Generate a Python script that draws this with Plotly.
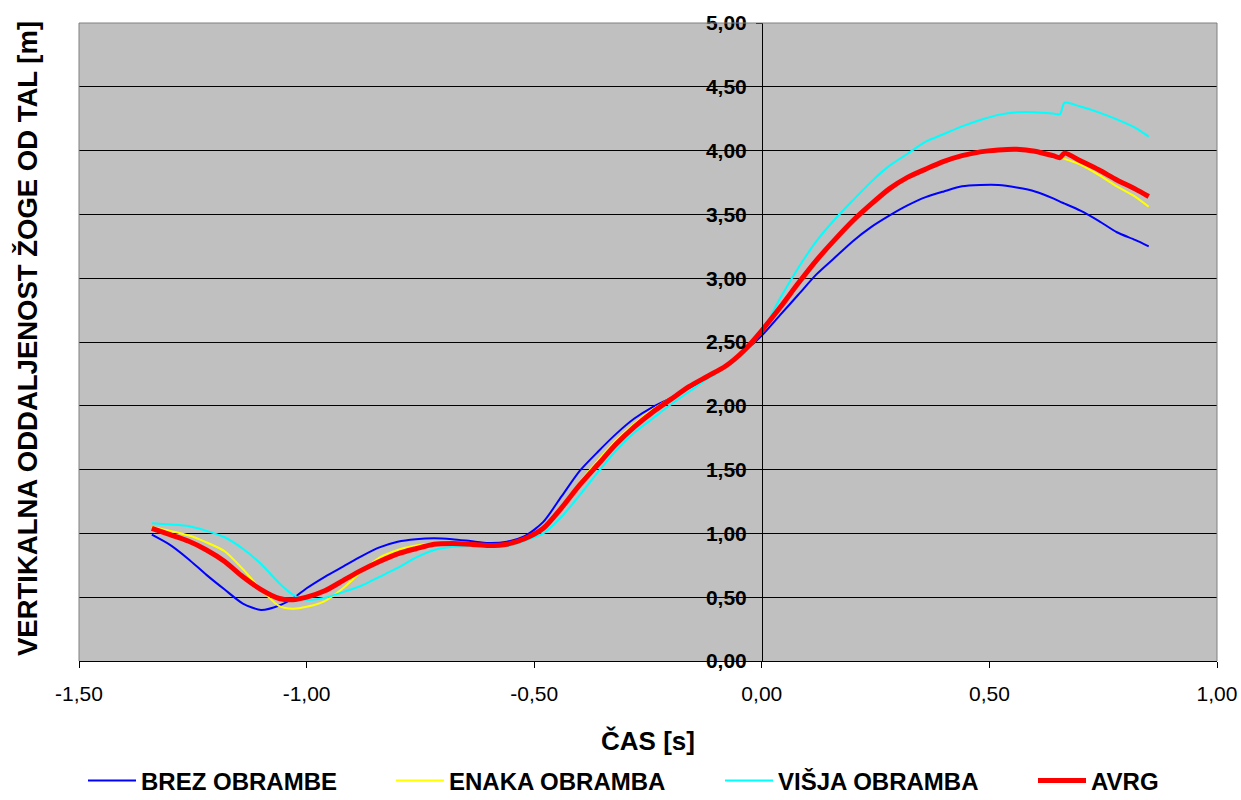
import plotly.graph_objects as go

# Time axis [s] and vertical ball height above ground [m] for each defence condition
time_s = [-1.34, -1.30, -1.26, -1.22, -1.18, -1.14, -1.10, -1.06, -1.03, -1.00,
          -0.96, -0.92, -0.88, -0.84, -0.80, -0.76, -0.72, -0.68, -0.64, -0.60,
          -0.56, -0.52, -0.48, -0.44, -0.40, -0.36, -0.32, -0.28, -0.24, -0.20,
          -0.16, -0.12, -0.08, -0.04, 0.00, 0.04, 0.08, 0.12, 0.16, 0.20,
          0.24, 0.28, 0.32, 0.36, 0.40, 0.44, 0.48, 0.52, 0.56, 0.60,
          0.64, 0.655, 0.665, 0.70, 0.74, 0.78, 0.82, 0.85]

brez_obrambe = [0.99, 0.91, 0.80, 0.675, 0.56, 0.45, 0.40, 0.435, 0.49, 0.57,
                0.66, 0.74, 0.82, 0.89, 0.935, 0.955, 0.962, 0.955, 0.94, 0.925,
                0.935, 0.98, 1.09, 1.29, 1.49, 1.64, 1.78, 1.90, 1.99, 2.06,
                2.14, 2.22, 2.31, 2.42, 2.55, 2.71, 2.87, 3.03, 3.16, 3.29,
                3.40, 3.49, 3.57, 3.635, 3.68, 3.72, 3.73, 3.73, 3.71, 3.68,
                3.625, 3.60, 3.585, 3.53, 3.45, 3.36, 3.30, 3.25]

enaka_obramba = [1.05, 1.02, 0.985, 0.93, 0.86, 0.72, 0.56, 0.43, 0.41, 0.425,
                 0.47, 0.57, 0.70, 0.81, 0.87, 0.905, 0.92, 0.92, 0.915, 0.905,
                 0.915, 0.96, 1.05, 1.21, 1.40, 1.57, 1.73, 1.86, 1.97, 2.06,
                 2.15, 2.24, 2.32, 2.44, 2.59, 2.77, 2.97, 3.15, 3.31, 3.46,
                 3.59, 3.70, 3.79, 3.855, 3.915, 3.96, 3.99, 4.005, 4.01, 3.995,
                 3.96, 3.945, 3.935, 3.89, 3.81, 3.72, 3.64, 3.56]

visja_obramba = [1.08, 1.07, 1.058, 1.02, 0.97, 0.88, 0.76, 0.61, 0.52, 0.48,
                 0.495, 0.54, 0.59, 0.66, 0.73, 0.81, 0.87, 0.895, 0.90, 0.895,
                 0.90, 0.945, 1.00, 1.13, 1.30, 1.48, 1.65, 1.79, 1.90, 2.01,
                 2.11, 2.21, 2.30, 2.41, 2.58, 2.84, 3.08, 3.29, 3.46, 3.61,
                 3.755, 3.88, 3.975, 4.07, 4.13, 4.19, 4.24, 4.28, 4.30, 4.30,
                 4.29, 4.285, 4.375, 4.345, 4.30, 4.245, 4.18, 4.11]

avrg = [1.04, 0.99, 0.94, 0.87, 0.78, 0.66, 0.56, 0.49, 0.48, 0.50,
        0.55, 0.63, 0.71, 0.78, 0.84, 0.88, 0.915, 0.92, 0.915, 0.905,
        0.915, 0.96, 1.04, 1.20, 1.38, 1.54, 1.70, 1.835, 1.95, 2.05,
        2.15, 2.23, 2.31, 2.43, 2.59, 2.77, 2.96, 3.14, 3.30, 3.45,
        3.58, 3.70, 3.79, 3.855, 3.915, 3.96, 3.99, 4.005, 4.01, 3.995,
        3.96, 3.945, 3.98, 3.92, 3.85, 3.77, 3.70, 3.64]

x_tick_vals = [-1.5, -1.0, -0.5, 0.0, 0.5, 1.0]
x_tick_text = ["-1,50", "-1,00", "-0,50", "0,00", "0,50", "1,00"]
y_tick_vals = [0.0, 0.5, 1.0, 1.5, 2.0, 2.5, 3.0, 3.5, 4.0, 4.5, 5.0]
y_tick_text = ["0,00", "0,50", "1,00", "1,50", "2,00", "2,50",
               "3,00", "3,50", "4,00", "4,50", "5,00"]

FONT = "Liberation Sans, Arial, sans-serif"

series = [
    ("BREZ OBRAMBE", brez_obrambe, "#0000FF", 2, "legend"),
    ("ENAKA OBRAMBA", enaka_obramba, "#FFFF00", 2, "legend2"),
    ("VIŠJA OBRAMBA", visja_obramba, "#00FFFF", 2, "legend3"),
    ("AVRG", avrg, "#FF0000", 5, "legend4"),
]

fig = go.Figure()
for name, vals, color, width, lg in series:
    fig.add_trace(go.Scatter(
        x=time_s, y=vals, mode="lines", name=name,
        line=dict(color=color, width=width, shape="spline", smoothing=0.7),
        legend=lg,
    ))

# plot area: 79..1217 px horizontally, 23..661 px vertically
L, R, T, B = 79, 24, 23, 139
W, H = 1241, 800
pw, ph = W - L - R, H - T - B


def px_x(px):
    return (px - L) / pw


def px_y(py):
    return (H - B - py) / ph


leg_common = dict(
    orientation="h", yanchor="middle", xanchor="left",
    font=dict(family=FONT, size=24, color="black", weight="bold"),
    bgcolor="rgba(0,0,0,0)", borderwidth=0, itemwidth=48,
)

fig.update_layout(
    width=W, height=H,
    margin=dict(l=L, r=R, t=T, b=B, pad=0, autoexpand=False),
    paper_bgcolor="white",
    plot_bgcolor="#C0C0C0",
    font=dict(family=FONT, color="black"),
    showlegend=True,
    legend=dict(x=px_x(83), y=px_y(781), **leg_common),
    legend2=dict(x=px_x(391), y=px_y(781), **leg_common),
    legend3=dict(x=px_x(720), y=px_y(781), **leg_common),
    legend4=dict(x=px_x(1033), y=px_y(781), **leg_common),
    xaxis=dict(
        range=[-1.5, 1.0],
        tickmode="array", tickvals=x_tick_vals, ticktext=x_tick_text,
        ticks="outside", ticklen=6, tickcolor="black", tickwidth=1,
        showline=True, linecolor="black", linewidth=1,
        showgrid=False, zeroline=False,
        tickfont=dict(family=FONT, size=21, color="black"),
        ticklabelstandoff=8,
        title=dict(text="ČAS [s]", standoff=27,
                   font=dict(family=FONT, size=26, color="black", weight="bold")),
    ),
    yaxis=dict(
        range=[0, 5],
        anchor="free", position=px_x(762), side="left",
        tickmode="array", tickvals=y_tick_vals, ticktext=y_tick_text,
        ticks="outside", ticklen=6, tickcolor="black", tickwidth=1,
        showline=True, linecolor="black", linewidth=1,
        showgrid=True, gridcolor="black", gridwidth=1,
        zeroline=False,
        tickfont=dict(family=FONT, size=21, color="black", weight="bold"),
        ticklabelstandoff=5,
    ),
    annotations=[dict(
        text="VERTIKALNA ODDALJENOST ŽOGE OD TAL [m]",
        xref="paper", yref="paper", x=px_x(27), y=px_y(339),
        xanchor="center", yanchor="middle", textangle=-90, showarrow=False,
        font=dict(family=FONT, size=27.5, color="black", weight="bold"),
    )],
    shapes=[
        dict(type="line", xref="paper", yref="paper", x0=0, x1=1, y0=1, y1=1,
             line=dict(color="#808080", width=1), layer="above"),
        dict(type="line", xref="paper", yref="paper", x0=0, x1=0, y0=0, y1=1,
             line=dict(color="#808080", width=1), layer="above"),
        dict(type="line", xref="paper", yref="paper", x0=1, x1=1, y0=0, y1=1,
             line=dict(color="#808080", width=1), layer="above"),
    ],
)

fig.write_html("out.html")
